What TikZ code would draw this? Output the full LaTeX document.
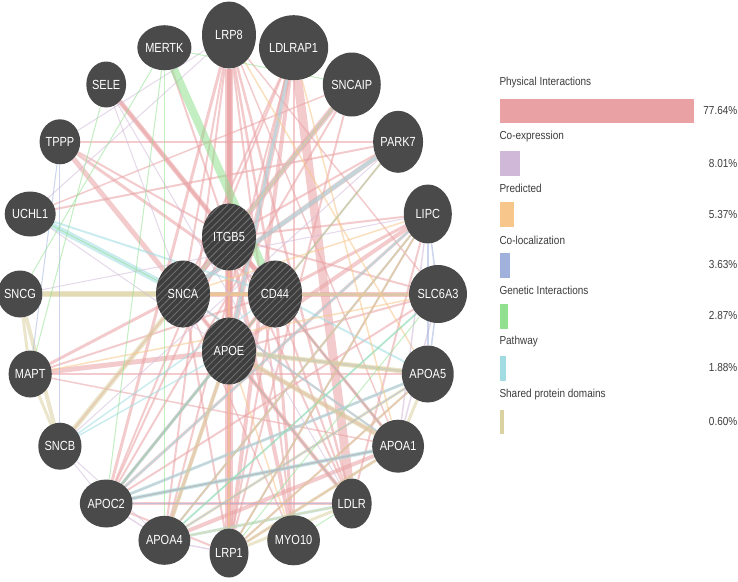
\documentclass[tikz,border=0pt]{standalone}
\usepackage{fontspec}
\setmainfont{Liberation Sans}
\usepackage{graphicx}
\usetikzlibrary{shapes.geometric,patterns.meta,backgrounds}
\definecolor{ngray}{RGB}{74,74,74}
\definecolor{hgray}{RGB}{62,62,62}
\definecolor{hline}{RGB}{110,110,110}
\definecolor{cPI}{RGB}{233,161,163}
\definecolor{cCE}{RGB}{208,184,216}
\definecolor{cPR}{RGB}{246,198,138}
\definecolor{cCL}{RGB}{160,178,220}
\definecolor{cGI}{RGB}{144,224,144}
\definecolor{cPW}{RGB}{160,220,226}
\definecolor{cSD}{RGB}{218,210,160}
\definecolor{ltext}{RGB}{60,60,60}
\newcommand{\stx}[1]{\scalebox{1}[1.2]{#1}}
\newcommand{\ltx}[1]{\scalebox{1}[1.16]{#1}}
\begin{document}
\begin{tikzpicture}[x=1pt,y=-1pt,
  gn/.style={ellipse, fill=ngray, text=white, inner sep=0pt,
    font=\fontsize{11}{12}\selectfont},
  hub/.style={gn, minimum width=54pt, minimum height=67pt,
    preaction={fill=hgray},
    pattern={Lines[angle=45,distance=5pt,line width=0.9pt]}, pattern color=hline},
  edge/.style={line width=#1, opacity=0.55},
  ltxt/.style={anchor=west, inner sep=0pt, text=ltext, font=\fontsize{10}{12}\selectfont},
  ptxt/.style={anchor=east, inner sep=0pt, text=ltext, font=\fontsize{10}{12}\selectfont},
  bar/.style={draw=none, fill=#1}]
\useasboundingbox (0,0) rectangle (738,581);
% outer ring
\node[gn, minimum width=54pt, minimum height=67pt] (LRP8) at (229,35) {\stx{LRP8}};
\node[gn, minimum width=52pt, minimum height=65pt] (LDLRAP1) at (293.6,47.7) {\stx{LDLRAP1}};
\node[gn, minimum width=51pt, minimum height=64pt] (SNCAIP) at (351.8,84.5) {\stx{SNCAIP}};
\node[gn, minimum width=49pt, minimum height=62pt] (PARK7) at (398.1,141.8) {\stx{PARK7}};
\node[gn, minimum width=48pt, minimum height=59pt] (LIPC) at (427.8,214) {\stx{LIPC}};
\node[gn, minimum width=46pt, minimum height=58pt] (SLC6A3) at (438,294) {\stx{SLC6A3}};
\node[gn, minimum width=45pt, minimum height=57pt] (APOA5) at (427.8,374) {\stx{APOA5}};
\node[gn, minimum width=42pt, minimum height=53pt] (APOA1) at (398.1,446.2) {\stx{APOA1}};
\node[gn, minimum width=39pt, minimum height=50pt] (LDLR) at (351.8,503.5) {\stx{LDLR}};
\node[gn, minimum width=40pt, minimum height=50pt] (MYO10) at (293.6,540.3) {\stx{MYO10}};
\node[gn, minimum width=39pt, minimum height=49pt] (LRP1) at (229,553) {\stx{LRP1}};
\node[gn, minimum width=38pt, minimum height=49pt] (APOA4) at (164.4,540.3) {\stx{APOA4}};
\node[gn, minimum width=38pt, minimum height=48pt] (APOC2) at (106.2,503.5) {\stx{APOC2}};
\node[gn, minimum width=38pt, minimum height=47pt] (SNCB) at (59.9,446.2) {\stx{SNCB}};
\node[gn, minimum width=38pt, minimum height=47pt] (MAPT) at (30.2,374) {\stx{MAPT}};
\node[gn, minimum width=38pt, minimum height=47pt] (SNCG) at (20,294) {\stx{SNCG}};
\node[gn, minimum width=36pt, minimum height=45pt] (UCHL1) at (30.2,214) {\stx{UCHL1}};
\node[gn, minimum width=35pt, minimum height=45pt] (TPPP) at (59.9,141.8) {\stx{TPPP}};
\node[gn, minimum width=35pt, minimum height=46pt] (SELE) at (106.2,84.5) {\stx{SELE}};
\node[gn, minimum width=36pt, minimum height=45pt] (MERTK) at (164.4,47.7) {\stx{MERTK}};
% hubs
\node[hub] (ITGB5) at (229,237) {\stx{ITGB5}};
\node[hub] (SNCA) at (183,294) {\stx{SNCA}};
\node[hub] (CD44) at (275,294) {\stx{CD44}};
\node[hub] (APOE) at (229,351) {\stx{APOE}};
% edges
\begin{pgfonlayer}{background}
\foreach \a/\b/\w in {LRP8/LRP1/8, LRP8/APOE/5, LRP8/ITGB5/4, LRP8/SNCA/2, LRP8/CD44/2.5,
  LRP8/LDLR/2.5, LRP8/APOA4/2, LRP8/APOC2/3, LRP8/MYO10/2, LRP8/SLC6A3/1.5, LRP8/APOA1/1.5,
  LDLRAP1/LDLR/9, LDLRAP1/APOE/6, LDLRAP1/LRP1/4, LDLRAP1/APOA4/2, LDLRAP1/APOC2/2,
  LDLRAP1/MYO10/2, LDLRAP1/SNCA/2, SNCAIP/SNCA/6, SNCAIP/ITGB5/3, SNCAIP/APOC2/2,
  SNCAIP/LRP1/2, PARK7/SNCA/5, PARK7/ITGB5/2, PARK7/APOE/2, LIPC/APOE/4, LIPC/APOC2/3,
  LIPC/APOA4/2, LIPC/LRP1/2, LIPC/CD44/3, LIPC/LDLR/2, LIPC/ITGB5/2, SLC6A3/SNCA/5,
  SLC6A3/APOC2/2, SLC6A3/APOE/2, SLC6A3/ITGB5/2, APOA5/APOE/3, APOA5/LRP1/2, APOA5/APOC2/2,
  APOA5/MAPT/1.5, APOA1/APOA4/4, APOA1/LRP1/2, APOA1/SNCA/2, APOA1/ITGB5/2, APOA1/APOE/3,
  APOA1/APOC2/2, LDLR/APOE/4, LDLR/APOC2/3, LDLR/SNCA/2, LDLR/ITGB5/2, LDLR/CD44/2,
  MYO10/ITGB5/4, MYO10/CD44/3, MYO10/SNCA/1.5, LRP1/APOE/4, LRP1/APOC2/2, LRP1/CD44/2,
  LRP1/SNCA/2, APOA4/APOE/3, APOC2/APOE/3, APOC2/CD44/2, APOC2/ITGB5/2, MAPT/APOE/5,
  MAPT/SNCA/3, MAPT/CD44/2, MAPT/APOA1/1.5, UCHL1/PARK7/2, UCHL1/SNCAIP/1.5, TPPP/SNCA/5,
  TPPP/CD44/3, TPPP/ITGB5/2, TPPP/PARK7/2, SELE/CD44/5, SELE/ITGB5/3, SNCB/SNCA/2,
  ITGB5/SNCA/5, ITGB5/CD44/5, ITGB5/APOE/6, SNCA/CD44/4, SNCA/APOE/4, CD44/APOE/4,
  MERTK/ITGB5/2, CD44/APOA1/3, CD44/SLC6A3/3}
  \draw[edge=\w pt, draw=cPI] (\a) -- (\b);
\foreach \a/\b/\w in {UCHL1/SNCA/6, UCHL1/CD44/2, PARK7/SNCA/4, SNCAIP/SNCA/3,
  LDLRAP1/APOE/3, SLC6A3/CD44/3, CD44/APOA5/2, APOE/APOC2/3, LIPC/APOC2/2, LIPC/APOA4/2,
  APOA1/APOC2/4, APOA5/APOC2/3, LDLR/APOA4/3, SNCB/CD44/1.5, SNCB/APOE/1.5, APOA5/APOE/2,
  APOA1/SNCA/2, SLC6A3/APOA4/2, LRP1/LIPC/1.5}
  \draw[edge=\w pt, draw=cPW] (\a) -- (\b);
\foreach \a/\b/\w in {SNCG/SNCA/6, SNCG/CD44/4, SNCG/SNCB/4, SNCG/MAPT/3, MAPT/SNCB/3,
  SNCB/SNCA/5, APOA5/APOE/5, APOA1/APOE/5, APOA4/APOE/4, APOA5/APOA1/3, APOA5/APOA4/3,
  LRP1/APOA1/3, LRP1/LDLR/3, LRP1/APOA5/2, APOA4/LDLR/2, APOC2/APOA1/2}
  \draw[edge=\w pt, draw=cSD] (\a) -- (\b);
\foreach \a/\b/\w in {SNCAIP/SNCA/1.5, SLC6A3/SNCA/3, MAPT/SLC6A3/1.5, LRP8/APOA5/1.5,
  LIPC/SNCA/1.5, LIPC/APOA4/1.5, LDLR/APOE/1.5, MYO10/APOE/1.5, LDLRAP1/APOA1/1.5,
  LRP1/ITGB5/1.5, APOA1/CD44/1.5, LIPC/LRP1/1.5}
  \draw[edge=\w pt, draw=cPR] (\a) -- (\b);
\foreach \a/\b/\w in {LRP8/UCHL1/1, LRP8/TPPP/1, SELE/SNCA/1, SELE/LDLR/1, LIPC/SNCG/1,
  LIPC/APOA1/1.5, PARK7/SNCB/1, APOC2/SNCB/1, APOC2/APOA4/1.5, APOA4/SNCB/1, UCHL1/APOE/1,
  LRP1/APOA4/1.5, CD44/APOC2/1, SLC6A3/APOA1/1.5}
  \draw[edge=\w pt, draw=cCE] (\a) -- (\b);
\foreach \a/\b/\w in {TPPP/SNCB/1, TPPP/MAPT/1, LIPC/APOA5/1.5, SLC6A3/APOA5/1.5,
  APOC2/APOA1/1.5, APOC2/LDLR/1, APOA4/APOA5/1, CD44/APOA1/1, LIPC/SLC6A3/1.5, APOE/LDLR/1}
  \draw[edge=\w pt, draw=cCL] (\a) -- (\b);
\foreach \a/\b/\w in {MERTK/CD44/8, MERTK/SNCAIP/1, MERTK/APOA4/1, MERTK/APOC2/1,
  MERTK/SNCG/1, SELE/MAPT/1, UCHL1/SNCA/1, PARK7/APOC2/1, SLC6A3/APOA4/1, LDLR/MYO10/1,
  SLC6A3/LRP1/1}
  \draw[edge=\w pt, draw=cGI] (\a) -- (\b);
\end{pgfonlayer}
% legend
\node[ltxt] (l1) at (499.3,82.7) {\ltx{Physical Interactions}};
\node[bar=cPI, anchor=north west, minimum width=194pt, minimum height=24.4pt, inner sep=0pt] (b1) at (499.3,98.3) {};
\node[ptxt] (p1) at (737.5,111) {\ltx{77.64\%}};
\node[ltxt] (l2) at (499.3,136.7) {\ltx{Co-expression}};
\node[bar=cCE, anchor=north west, minimum width=20.7pt, minimum height=25.3pt, inner sep=0pt] (b2) at (499.3,150.7) {};
\node[ptxt] (p2) at (737.5,163.3) {\ltx{8.01\%}};
\node[ltxt] (l3) at (499.3,188.3) {\ltx{Predicted}};
\node[bar=cPR, anchor=north west, minimum width=14.7pt, minimum height=25pt, inner sep=0pt] (b3) at (499.3,201.7) {};
\node[ptxt] (p3) at (737.5,214.3) {\ltx{5.37\%}};
\node[ltxt] (l4) at (499.3,240) {\ltx{Co-localization}};
\node[bar=cCL, anchor=north west, minimum width=10.7pt, minimum height=24.6pt, inner sep=0pt] (b4) at (499.3,252.7) {};
\node[ptxt] (p4) at (737.5,265) {\ltx{3.63\%}};
\node[ltxt] (l5) at (499.3,290) {\ltx{Genetic Interactions}};
\node[bar=cGI, anchor=north west, minimum width=8.4pt, minimum height=25pt, inner sep=0pt] (b5) at (499.3,303.3) {};
\node[ptxt] (p5) at (737.5,316) {\ltx{2.87\%}};
\node[ltxt] (l6) at (499.3,341.7) {\ltx{Pathway}};
\node[bar=cPW, anchor=north west, minimum width=6.7pt, minimum height=24.7pt, inner sep=0pt] (b6) at (499.3,356) {};
\node[ptxt] (p6) at (737.5,367.3) {\ltx{1.88\%}};
\node[ltxt] (l7) at (499.3,394.3) {\ltx{Shared protein domains}};
\node[bar=cSD, anchor=north west, minimum width=4.7pt, minimum height=24.7pt, inner sep=0pt] (b7) at (499.3,409.3) {};
\node[ptxt] (p7) at (737.5,421) {\ltx{0.60\%}};
\end{tikzpicture}
\end{document}
